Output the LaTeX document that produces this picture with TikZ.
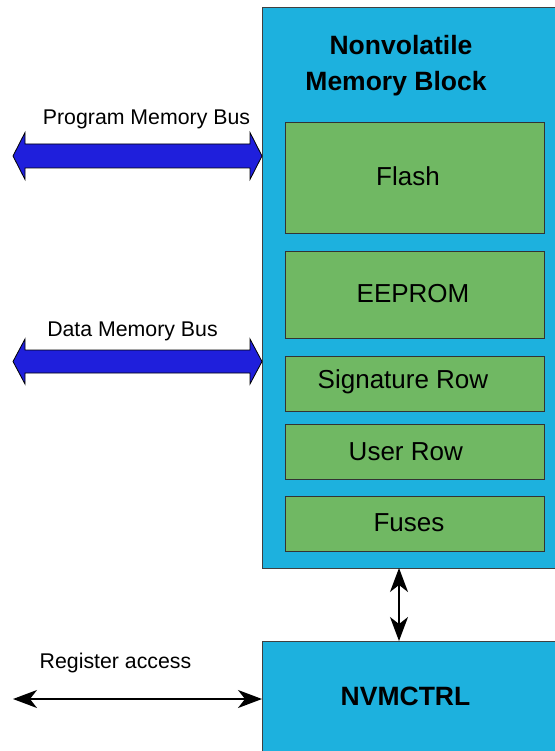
\documentclass[tikz,border=0pt]{standalone}
\usepackage{fontspec}
\setmainfont{Liberation Sans}
\usetikzlibrary{arrows.meta}

\definecolor{nvmblue}{RGB}{29,177,222}
\definecolor{memgreen}{RGB}{112,184,99}
\definecolor{busblue}{RGB}{31,31,220}

\tikzset{
  block/.style={draw=black!75, fill=nvmblue, line width=0.9pt, inner sep=0pt, outer sep=0pt},
  memrow/.style={draw=black!80, fill=memgreen, line width=0.9pt, inner sep=0pt, outer sep=0pt,
    minimum width=259pt},
  memtxt/.style={font=\fontsize{26}{31}\selectfont, inner sep=0pt, anchor=base},
  titletxt/.style={font=\bfseries\fontsize{26.5}{31}\selectfont, inner sep=0pt, anchor=base},
  bustxt/.style={font=\fontsize{21.3}{25}\selectfont, inner sep=0pt, anchor=base},
  bus/.style={draw=black, fill=busblue, line width=0.8pt, line join=miter},
  dblarrow/.style={{Stealth[length=24pt,width=18pt,inset=7pt]}-{Stealth[length=24pt,width=18pt,inset=7pt]}, line width=1.5pt}
}

\begin{document}
\begin{tikzpicture}[x=1pt,y=-1pt]
\useasboundingbox (0,0) rectangle (554,751);

\node [block, minimum width=318pt, minimum height=561pt] (nvm) at (421,287.5) {};
\node [titletxt] (title1) at (401,55) {Nonvolatile};
\node [titletxt] (title2) at (396,90.7) {Memory Block};

\node [memrow, minimum height=111pt] (flash) at (414.5,177.5) {};
\node [memrow, minimum height=87pt] (eeprom) at (414.5,294.5) {};
\node [memrow, minimum height=55pt] (sigrow) at (414.5,383.5) {};
\node [memrow, minimum height=55pt] (userrow) at (414.5,451.5) {};
\node [memrow, minimum height=55pt] (fuses) at (414.5,523.5) {};

\node [memtxt] (flashtxt) at (408,185.7) {Flash};
\node [memtxt] (eepromtxt) at (413,302.3) {EEPROM};
\node [memtxt] (sigrowtxt) at (403,388.7) {Signature Row};
\node [memtxt] (userrowtxt) at (405.8,460) {User Row};
\node [memtxt] (fusestxt) at (409,531.7) {Fuses};

\node [block, minimum width=318pt, minimum height=139pt] (ctrl) at (421,710.5) {};
\node [titletxt] (ctrltxt) at (405.5,705) {NVMCTRL};

\draw [bus] (13,156) -- (25,132.5) -- (25,144) -- (250,144) -- (250,132.5) -- (262,156)
  -- (250,179.5) -- (250,168) -- (25,168) -- (25,179.5) -- cycle;
\node [bustxt] (progbus) at (146.5,125) {Program Memory Bus};

\draw [bus] (13,361.5) -- (25,339) -- (25,350) -- (250,350) -- (250,339) -- (262,361.5)
  -- (250,384) -- (250,373) -- (25,373) -- (25,384) -- cycle;
\node [bustxt] (databus) at (132.5,336.7) {Data Memory Bus};

\coordinate (vlink) at (399,600);
\draw [dblarrow] (nvm.south -| vlink) -- (ctrl.north -| vlink);

\coordinate (regend) at (13,699);
\draw [dblarrow] (regend) -- (regend -| ctrl.west);
\node [bustxt] (regacc) at (115.5,668) {Register access};
\end{tikzpicture}
\end{document}
